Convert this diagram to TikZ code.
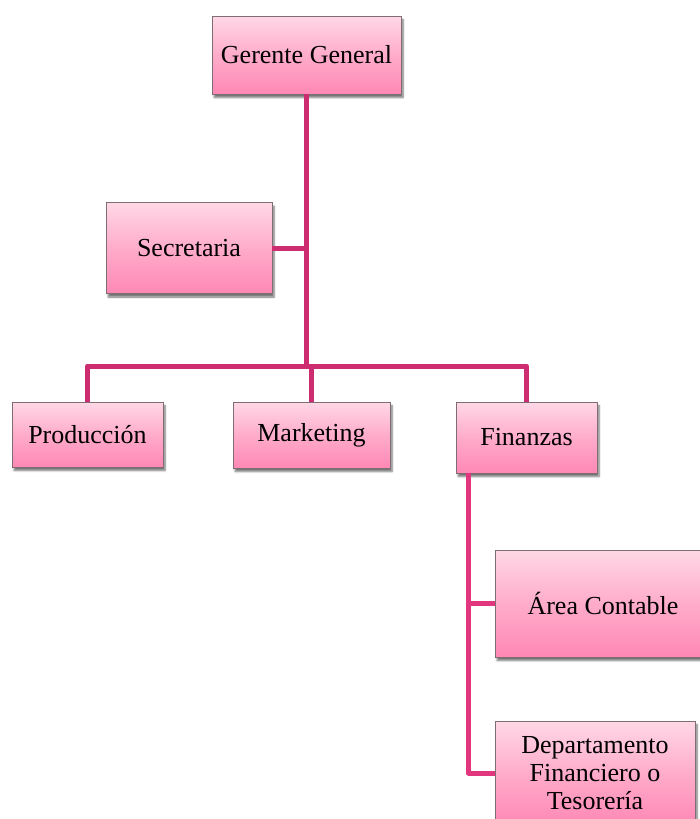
\documentclass[tikz,border=0pt]{standalone}
\usepackage{fontspec}
\setmainfont{Liberation Serif}
\usetikzlibrary{shadows.blur}
\definecolor{linkmain}{HTML}{CE2C71}
\definecolor{linksub}{HTML}{E2377F}
\definecolor{boxtop}{HTML}{FFD8E6}
\definecolor{boxbot}{HTML}{FF88B4}
\definecolor{boxedge}{HTML}{7E6E74}
\begin{document}
\begin{tikzpicture}[x=1pt,y=-1pt,
  unit/.style={draw=boxedge, line width=0.9pt, top color=boxtop, bottom color=boxbot,
    middle color=boxtop!45!boxbot,
    inner sep=0pt, align=center, font=\fontsize{26}{28}\selectfont,
    blur shadow={shadow xshift=2pt, shadow yshift=-3.5pt, shadow blur steps=6, shadow opacity=55}},
  link/.style={draw=linkmain, line width=5pt, line join=round},
  sublink/.style={draw=linksub, line width=5pt, line join=round}]
\useasboundingbox (0,0) rectangle (700,819);
\clip (0,0) rectangle (700,819);

% boxes
\node[unit, minimum width=189pt, minimum height=78pt] (gg) at (306.5,55) {Gerente General};
\node[unit, minimum width=166pt, minimum height=91pt] (sec) at (189,248) {Secretaria};
\node[unit, minimum width=151pt, minimum height=65pt] (prod) at (87.5,434.5) {Producción};
\node[unit, minimum width=157pt, minimum height=66pt] (mkt) at (311.5,435) {Marketing};
\node[unit, minimum width=141pt, minimum height=71pt] (fin) at (526.5,437.5) {Finanzas};
\node[unit, minimum width=216pt, minimum height=107pt] (area) at (603,603.5) {Área Contable};
\node[unit, minimum width=200pt, minimum height=104pt] (dep) at (595,773) {Departamento\\Financiero o\\Tesorería};

% connectors
\coordinate (bus) at (306.5,366);
\coordinate (fdrop) at ([xshift=13pt]fin.south west);
\draw[link] (gg.south) -- (bus);
\draw[link] (sec.east) -- (sec.east -| bus);
\draw[link] (prod.north) -- (prod.north |- bus) -- (fin.north |- bus) -- (fin.north);
\draw[link] (mkt.north) -- (mkt.north |- bus);
\draw[sublink] (fdrop) -- (fdrop |- dep.west) -- (dep.west);
\draw[sublink] (fdrop |- area.west) -- (area.west);
\end{tikzpicture}
\end{document}
